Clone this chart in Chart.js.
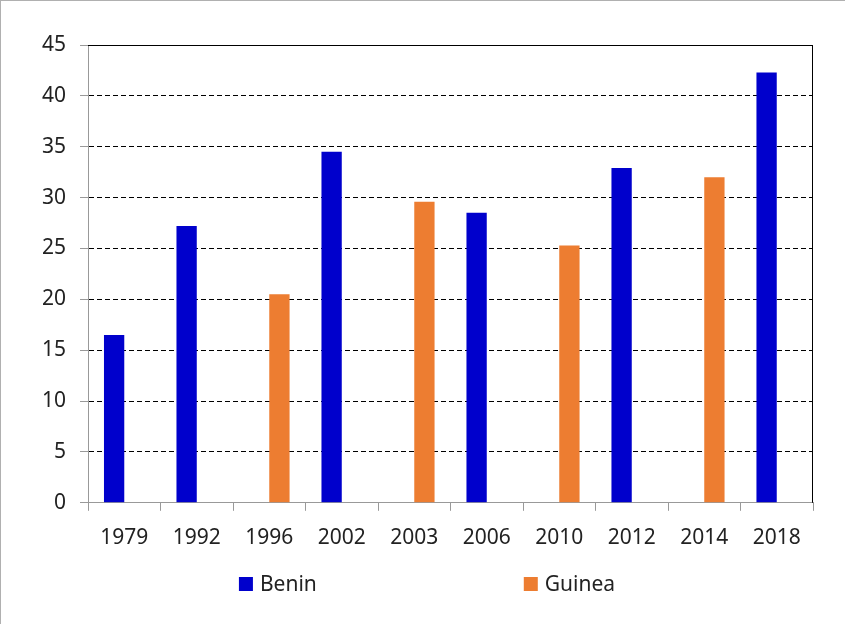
<!DOCTYPE html>
<html>
<head>
<meta charset="utf-8">
<script src="https://cdn.jsdelivr.net/npm/chart.js@4/dist/chart.umd.min.js"></script>
<style>
  html, body { margin: 0; padding: 0; background: #fff; }
  #wrap { width: 845px; height: 624px; box-sizing: border-box; border-left: 1px solid #b0b0b0; border-top: 1px solid #b0b0b0; position: relative; }
  canvas { position: absolute; left: 0; top: 0; }
</style>
</head>
<body>
<div id="wrap"><canvas id="chart" width="844" height="623"></canvas></div>
<script>
// data
const years = ['1979', '1992', '1996', '2002', '2003', '2006', '2010', '2012', '2014', '2018'];
const benin = [16.5, 27.2, null, 34.5, null, 28.5, null, 32.9, null, 42.3];
const guinea = [null, null, 20.5, null, 29.6, null, 25.3, null, 32.0, null];
const yTicks = [0, 5, 10, 15, 20, 25, 30, 35, 40, 45];

const fontFamily = "'Noto Sans', 'Open Sans', sans-serif";
const font = { family: fontFamily, size: 21 };

// black frame on top and right of the plot area
const frame = {
  id: 'frame',
  afterDatasetsDraw(chart) {
    const a = chart.chartArea, c = chart.ctx;
    c.save();
    c.strokeStyle = '#000';
    c.lineWidth = 1;
    c.beginPath();
    c.moveTo(a.left, a.top + 0.5);
    c.lineTo(a.right - 0.5, a.top + 0.5);
    c.lineTo(a.right - 0.5, a.bottom);
    c.stroke();
    c.restore();
  }
};

// legend with a wide gap between the two entries (built-in legend pads rows too)
const wideLegend = {
  id: 'wideLegend',
  afterDraw(chart) {
    const c = chart.ctx;
    const gap = 207, box = 14, sp = 7;
    const y = chart.height - 40;
    c.save();
    c.font = font.size + 'px ' + fontFamily;
    c.textBaseline = 'middle';
    const items = chart.data.datasets.map(d => ({ text: d.label, color: d.backgroundColor, w: box + sp + c.measureText(d.label).width }));
    const total = items.reduce((s, it) => s + it.w, 0) + gap * (items.length - 1);
    let x = chart.width / 2 + 4 - total / 2;
    items.forEach(it => {
      c.fillStyle = it.color;
      c.fillRect(x, y - box / 2, box, box);
      c.fillStyle = '#222';
      c.fillText(it.text, x + box + sp, y + 1);
      x += it.w + gap;
    });
    c.restore();
  }
};

new Chart(document.getElementById('chart'), {
  type: 'bar',
  data: {
    labels: years,
    datasets: [
      { label: 'Benin', data: benin, backgroundColor: '#0000CC' },
      { label: 'Guinea', data: guinea, backgroundColor: '#ED7D31' }
    ]
  },
  options: {
    responsive: false,
    animation: false,
    layout: { padding: { top: 44, left: 27, right: 32, bottom: 58 } },
    datasets: { bar: { barPercentage: 1, categoryPercentage: 0.56 } },
    plugins: {
      tooltip: { enabled: false },
      legend: { display: false }
    },
    scales: {
      x: {
        grid: { drawOnChartArea: false, color: '#999', tickLength: 8, offset: true },
        border: { color: '#999' },
        ticks: { color: '#222', font: font, padding: 15 }
      },
      y: {
        min: 0, max: 45,
        afterBuildTicks: s => { s.ticks = yTicks.map(v => ({ value: v })); },
        grid: { color: ctx => ctx.tick && ctx.tick.value === 0 ? 'rgba(0,0,0,0)' : '#000', tickColor: '#999', tickLength: 8 },
        border: { color: '#999', dash: [5, 3] },
        ticks: { color: '#222', font: font, padding: 14 }
      }
    }
  },
  plugins: [frame, wideLegend]
});
</script>
</body>
</html>
